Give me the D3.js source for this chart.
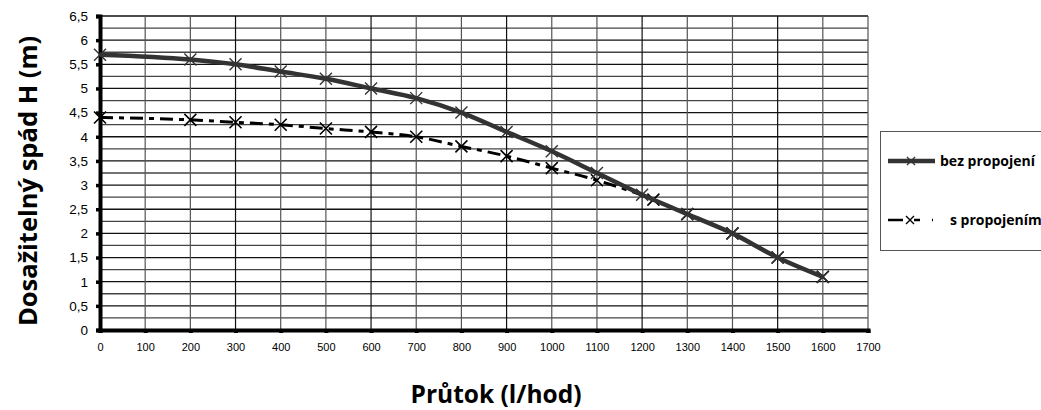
<!DOCTYPE html>
<html>
<head>
<meta charset="utf-8">
<style>
  body { margin: 0; background: #fff; }
  svg { display: block; }
  .tick text { font-family: "Liberation Sans", Arial, sans-serif; fill: #000; }
  .title { font-family: "Open Sans", Lato, sans-serif; font-weight: bold; fill: #000; }
</style>
</head>
<body>
<div id="chart"></div>
<script src="https://cdn.jsdelivr.net/npm/d3@7/dist/d3.min.js"></script>
<script>
  // data
  let xTicks = [0, 100, 200, 300, 400, 500, 600, 700, 800, 900, 1000, 1100, 1200, 1300, 1400, 1500, 1600, 1700];
  let yTicks = [0, 0.5, 1, 1.5, 2, 2.5, 3, 3.5, 4, 4.5, 5, 5.5, 6, 6.5];

  let bezX = [0, 200, 300, 400, 500, 600, 700, 800, 900, 1000, 1100, 1200, 1300, 1400, 1500, 1600];
  let bezY = [5.7, 5.6, 5.5, 5.35, 5.2, 5.0, 4.8, 4.5, 4.1, 3.7, 3.25, 2.8, 2.4, 2.0, 1.5, 1.1];

  let sX = [0, 200, 300, 400, 500, 600, 700, 800, 900, 1000, 1100, 1225, 1300, 1400, 1500, 1600];
  let sY = [4.4, 4.35, 4.3, 4.25, 4.17, 4.1, 4.0, 3.8, 3.6, 3.35, 3.1, 2.7, 2.4, 2.0, 1.5, 1.1];

  let seriesNames = ["bez propojení", "s propojením"];

  let w = 1041, h = 410;
  let svg = d3.select("#chart").append("svg").attr("width", w).attr("height", h);

  let x = d3.scaleLinear().domain([0, 1700]).range([100, 868]);
  let y = d3.scaleLinear().domain([0, 6.5]).range([330, 16]);

  // grid
  let grid = svg.append("g");
  grid.selectAll("line.h")
    .data(d3.range(0, 6.5001, 0.25))
    .enter().append("line")
      .attr("x1", x(0)).attr("x2", x(1700))
      .attr("y1", d => y(d)).attr("y2", d => y(d))
      .attr("stroke", (d, i) => i % 2 ? "#444" : "#111")
      .attr("stroke-width", 1.3);
  grid.selectAll("line.v")
    .data(xTicks)
    .enter().append("line")
      .attr("x1", d => x(d)).attr("x2", d => x(d))
      .attr("y1", y(6.5)).attr("y2", y(0))
      .attr("stroke", (d, i) => i % 3 ? "#555" : "#111")
      .attr("stroke-width", 1.2);

  // axes
  let fmt = d => String(d).replace(".", ",");
  let yAxis = svg.append("g")
    .attr("transform", "translate(" + x(0) + ",0)")
    .call(d3.axisLeft(y).tickValues(yTicks).tickFormat(fmt).tickSize(4).tickPadding(8));
  yAxis.select(".domain").attr("stroke", "#000").attr("stroke-width", 4);
  yAxis.selectAll(".tick line").attr("stroke", "#000").attr("stroke-width", 3.5).attr("x2", -4);
  yAxis.selectAll(".tick text").attr("font-size", 13.5);

  let xAxis = svg.append("g")
    .attr("transform", "translate(0," + y(0) + ")")
    .call(d3.axisBottom(x).tickValues(xTicks).tickFormat(d => d).tickSize(3).tickPadding(10));
  xAxis.select(".domain").attr("stroke", "#000").attr("stroke-width", 4);
  xAxis.selectAll(".tick line").attr("stroke", "#000").attr("stroke-width", 4);
  xAxis.selectAll(".tick text").attr("font-size", 11);

  // series
  let line = d3.line().x(d => x(d[0])).y(d => y(d[1])).curve(d3.curveMonotoneX);
  let bez = bezX.map((v, i) => [v, bezY[i]]);
  let sp = sX.map((v, i) => [v, sY[i]]);

  function cross(g, data, col, sw) {
    g.selectAll("path.m")
      .data(data)
      .enter().append("path")
        .attr("d", d => {
          let cx = x(d[0]), cy = y(d[1]), r = 6;
          return "M" + (cx - r) + "," + (cy - r) + "L" + (cx + r) + "," + (cy + r) +
                 "M" + (cx - r) + "," + (cy + r) + "L" + (cx + r) + "," + (cy - r);
        })
        .attr("stroke", col).attr("stroke-width", sw).attr("fill", "none");
  }

  let gS = svg.append("g");
  gS.append("path").attr("d", line(sp))
    .attr("fill", "none").attr("stroke", "#000").attr("stroke-width", 3)
    .attr("stroke-dasharray", "13,6,5,6");
  cross(gS, sp, "#000", 1.6);

  let gB = svg.append("g");
  gB.append("path").attr("d", line(bez))
    .attr("fill", "none").attr("stroke", "#333").attr("stroke-width", 4.5);
  cross(gB, bez, "#333", 1.4);

  // legend
  let leg = svg.append("g");
  leg.append("rect").attr("x", 880.5).attr("y", 131.5).attr("width", 170).attr("height", 119)
    .attr("fill", "#fff").attr("stroke", "#555").attr("stroke-width", 1);
  leg.append("line").attr("x1", 888).attr("x2", 935).attr("y1", 161).attr("y2", 161)
    .attr("stroke", "#333").attr("stroke-width", 4.5);
  leg.append("path").attr("d", "M907,157L915,165M907,165L915,157").attr("stroke", "#333").attr("stroke-width", 1.4);
  leg.append("text").attr("class", "title").attr("x", 940).attr("y", 165.5)
    .attr("font-size", 14).text(seriesNames[0]);
  leg.append("line").attr("x1", 888).attr("x2", 937).attr("y1", 220).attr("y2", 220)
    .attr("stroke", "#000").attr("stroke-width", 2.5).attr("stroke-dasharray", "15,11,6,12,1,5");
  leg.append("path").attr("d", "M906,216L914,224M906,224L914,216").attr("stroke", "#000").attr("stroke-width", 1.4);
  leg.append("text").attr("class", "title").attr("x", 950).attr("y", 224.5)
    .attr("font-size", 14).text(seriesNames[1]);

  // titles
  svg.append("text").attr("class", "title")
    .attr("transform", "translate(37,181) rotate(-90)")
    .attr("text-anchor", "middle").attr("font-size", 25.5)
    .text("Dosažitelný spád H (m)");
  svg.append("text").attr("class", "title")
    .attr("x", 496).attr("y", 403).attr("text-anchor", "middle").attr("font-size", 24.5)
    .text("Průtok (l/hod)");
</script>
</body>
</html>
